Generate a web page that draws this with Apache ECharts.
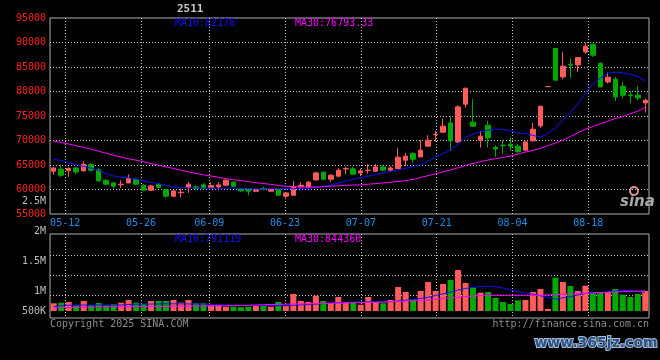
<!DOCTYPE html>
<html><head><meta charset="utf-8">
<script src="https://cdn.jsdelivr.net/npm/echarts@6/dist/echarts.min.js"></script>
<style>html,body{margin:0;padding:0;background:#000;}#c{width:660px;height:360px;}</style>
</head><body><div id="c"></div>
<script>
const title = '2511';
const dates = ['05-08','05-09','05-12','05-13','05-14','05-15','05-16','05-19','05-20','05-21','05-22','05-23','05-26','05-27','05-28','05-29','05-30',
'06-03','06-04','06-05','06-06','06-09','06-10','06-11','06-12','06-13','06-16','06-17','06-18','06-19','06-20','06-23','06-24','06-25','06-26','06-27','06-30',
'07-01','07-02','07-03','07-04','07-07','07-08','07-09','07-10','07-11','07-14','07-15','07-16','07-17','07-18','07-21','07-22','07-23','07-24','07-25','07-28','07-29','07-30','07-31',
'08-01','08-04','08-05','08-06','08-07','08-08','08-11','08-12','08-13','08-14','08-15','08-18','08-19','08-20','08-21','08-22','08-25','08-26','08-27','08-28'];
const tickDates = ['05-12','05-26','06-09','06-23','07-07','07-21','08-04','08-18'];
const volTickLabels = ['500K','1M','1.5M','2M','2.5M'];

const open = [63730,64140,63880,64400,63790,65100,64040,61900,61340,60980,
61340,62100,60870,59850,61080,59960,58630,59340,60400,60530,
60940,60400,60530,60870,61490,60060,60060,59650,60260,59650,
60000,58630,58830,60530,60400,61960,63530,62100,62710,64200,
64200,63390,63880,63730,64610,63940,64280,65980,67340,66650,
68840,71180,71690,73590,69710,77410,73730,70060,73120,68570,
69040,69240,68840,68020,69920,72980,80980,88780,82980,85570,
85430,88080,89650,85710,81960,82510,81080,79310,79240,77670];
const close = [64400,62920,64280,63590,65160,63940,61750,61080,60670,61080,
62240,61080,59850,60730,60400,58630,59710,59450,61080,60200,
60260,60810,60940,61900,60670,59710,59650,59920,60060,60060,
58830,59300,60530,60870,61490,63390,62100,62920,63940,64280,
63120,63790,63940,64610,63940,64400,66590,66790,66180,68020,
70060,71280,72920,69920,76860,80670,72920,70880,70530,68280,
68940,68840,67670,69710,72300,77000,81020,82310,85160,85370,
86940,89240,87410,80940,82920,78900,79240,79180,78690,78220];
const low = [63060,62570,62570,63120,63730,63730,61690,60870,60200,60320,
61280,60870,59650,59650,60160,58370,58530,58420,59300,59960,
60000,60260,59850,60670,60470,59550,58830,59550,59850,59550,
58730,58020,58730,60400,60260,61790,61900,61550,62610,63120,
63020,62710,63260,63630,63830,63590,64140,64750,65430,66590,
68730,69710,71590,67880,69510,76730,72820,68570,68570,66650,
67340,67880,67610,67920,69860,72570,80960,82200,82450,82770,
84000,87760,87060,80880,81630,78080,78570,77670,78220,75710];
const high = [64550,64960,64550,64610,65770,65430,64340,62100,61550,61900,
63060,62300,61080,60980,61280,60160,59850,60160,61550,60870,
61340,61490,61490,62100,61750,60260,60160,60060,60530,60160,
60160,59450,61750,61490,61690,63630,63730,63120,64340,64610,
64610,64280,65160,65160,64900,64750,68430,67470,67670,70060,
71080,71960,74490,74960,77200,80780,78430,71960,74000,69040,
70060,70610,69240,69860,73590,77100,81060,88840,88080,86730,
87000,90000,89760,85980,83880,82980,81960,80060,81080,78570];
const ma10 = [66180,65920,65470,65060,64710,64350,63880,63220,62770,62510,
62370,62100,61750,61450,61200,60840,60510,60370,60320,60300,
60260,60270,60230,60300,60280,60230,60180,60160,60150,60190,
60160,60120,60170,60210,60280,60380,60620,60900,61300,61690,
62100,62440,62710,63080,63400,63730,64020,64300,64650,65080,
65800,66590,67300,68100,69250,70700,71300,71750,72150,72300,
72280,72000,71500,71400,71050,70720,71400,72600,74200,75700,
77500,79600,81500,82750,83700,83950,83800,83530,83000,82178];
const ma30 = [69860,69590,69280,68940,68590,68220,67810,67410,67000,66590,
66280,65980,65670,65300,64960,64610,64300,63940,63590,63280,
63000,62750,62490,62220,62020,61810,61610,61400,61220,61040,
60830,60670,60590,60530,60530,60530,60590,60670,60750,60870,
60900,60940,61080,61200,61340,61490,61650,61810,62040,62450,
62830,63200,63610,63980,64430,64900,65320,65670,66020,66300,
66550,66830,67220,67650,67980,68430,68920,69490,70060,70810,
71570,72300,72840,73430,73940,74490,74900,75470,75980,76793.33];
const volume = [322000,347000,376000,238000,418000,238000,334000,238000,280000,347000,
460000,347000,280000,418000,418000,418000,460000,347000,460000,322000,
322000,238000,238000,180000,180000,160000,180000,238000,238000,180000,
376000,222000,711000,418000,376000,640000,418000,347000,585000,376000,
376000,263000,585000,376000,322000,460000,1003000,794000,489000,836000,
1212000,836000,1129000,1296000,1714000,1170000,974000,765000,794000,543000,
376000,293000,447000,460000,794000,920000,84000,1392000,1212000,1045000,
836000,1058000,765000,765000,794000,920000,681000,585000,711000,836000];
const volMa10 = [188000,220000,240000,245000,250000,250000,252000,250000,248000,255000,
270000,280000,285000,290000,295000,300000,300000,298000,295000,292000,
285000,275000,262000,252000,245000,238000,230000,228000,225000,222000,
222000,220000,240000,255000,268000,290000,310000,330000,350000,365000,
375000,378000,382000,385000,387000,389000,418000,451000,489000,531000,
573000,648000,719000,794000,878000,941000,991000,1024000,1045000,1024000,
961000,886000,815000,752000,702000,635000,564000,502000,552000,598000,
669000,732000,752000,773000,807000,836000,865000,860000,810000,791119];
const volMa30 = [130000,140000,150000,155000,160000,165000,170000,172000,175000,178000,
180000,183000,185000,188000,190000,193000,196000,200000,203000,206000,
210000,214000,218000,222000,226000,232000,240000,250000,262000,272000,
280000,285000,292000,298000,305000,312000,318000,322000,330000,338000,
345000,352000,360000,368000,375000,385000,400000,415000,430000,445000,
460000,490000,520000,550000,575000,600000,625000,645000,656000,660000,
660000,660000,660000,658000,656000,660000,670000,685000,700000,712000,
725000,740000,755000,770000,782000,795000,808000,820000,832000,844360];
const priceMaText = ['MA10:82178', 'MA30:76793.33'];
const volMaText = ['MA10:791119', 'MA30:844360'];

const MONO = '"DejaVu Sans Mono","Liberation Mono",monospace';
const UP = '#ff5b5b', DOWN = '#00a800';
const tickIdx = new Set(tickDates.map(d => dates.indexOf(d)));
const showTick = (i) => tickIdx.has(i);
const candle = dates.map((d, i) => [open[i], close[i], low[i], high[i]]);
const volData = volume.map((v, i) => ({ value: v, itemStyle: { color: close[i] >= open[i] ? UP : DOWN } }));
const gridLine = { color: '#c4c4c4', width: 1, type: [1, 2] };
const G = { left: 50, width: 599, outerBoundsMode: 'none', containLabel: false };

const chart = echarts.init(document.getElementById('c'));
chart.setOption({
  backgroundColor: '#000',
  animation: false,
  grid: [
    Object.assign({ top: 18, height: 196, show: true, borderColor: '#b0b0b0', borderWidth: 1, backgroundColor: 'transparent' }, G),
    Object.assign({ top: 234, height: 77 }, G),
    Object.assign({ top: 235, height: 80 }, G),
    Object.assign({ top: 234, height: 84, show: true, borderColor: '#b0b0b0', borderWidth: 1, backgroundColor: 'transparent' }, G),
    Object.assign({ top: 201, height: 150 }, G)
  ],
  xAxis: [
    { type: 'category', gridIndex: 0, data: dates, boundaryGap: false, axisLine: { show: false }, axisTick: { show: false },
      axisLabel: { interval: showTick, color: '#1f8fea', fontFamily: MONO, fontSize: 10, margin: 4 },
      splitLine: { show: true, interval: showTick, lineStyle: gridLine } },
    { type: 'category', gridIndex: 0, data: dates, boundaryGap: true, show: false },
    { type: 'category', gridIndex: 1, data: dates, boundaryGap: true, show: false },
    { type: 'category', gridIndex: 2, data: dates, show: false },
    { type: 'category', gridIndex: 3, data: dates, boundaryGap: false, axisLine: { show: false }, axisTick: { show: false },
      axisLabel: { show: false }, splitLine: { show: true, interval: showTick, lineStyle: gridLine } },
    { type: 'category', gridIndex: 4, data: dates, show: false }
  ],
  yAxis: [
    { type: 'value', gridIndex: 0, min: 55000, max: 95000, interval: 5000, axisLine: { show: false }, axisTick: { show: false },
      axisLabel: { color: '#ff2020', fontFamily: MONO, fontSize: 10, margin: 4, formatter: v => String(v) },
      splitLine: { show: true, showMinLine: false, showMaxLine: false, lineStyle: gridLine } },
    { type: 'value', gridIndex: 1, min: 0, max: 3220000, show: false },
    { type: 'value', gridIndex: 2, min: 0, max: 80, interval: 20, axisLine: { show: false }, axisTick: { show: false },
      axisLabel: { show: false }, splitLine: { show: true, showMinLine: false, showMaxLine: false, lineStyle: gridLine } },
    { type: 'value', gridIndex: 3, show: false },
    { type: 'value', gridIndex: 4, min: 0, max: 2500000, interval: 500000, axisLine: { show: false }, axisTick: { show: false },
      splitLine: { show: false },
      axisLabel: { color: '#bcbcbc', fontFamily: MONO, fontSize: 10, margin: 4,
        formatter: v => { const k = Math.round(v / 500000); if (k === 0) return ''; const t = volTickLabels[k - 1]; return k === 1 ? '{lo|' + t + '}' : t; },
        rich: { lo: { color: '#bcbcbc', fontFamily: MONO, fontSize: 10, padding: [0, 0, 20, 0] } } } }
  ],
  series: [
    { type: 'candlestick', xAxisIndex: 1, yAxisIndex: 0, data: candle, barWidth: 5, silent: true,
      itemStyle: { color: UP, color0: DOWN, borderColor: UP, borderColor0: DOWN, borderWidth: 1 } },
    { type: 'line', xAxisIndex: 1, yAxisIndex: 0, data: ma10, symbol: 'none', silent: true, lineStyle: { color: '#1010ff', width: 1 } },
    { type: 'line', xAxisIndex: 1, yAxisIndex: 0, data: ma30, symbol: 'none', silent: true, lineStyle: { color: '#ff00ff', width: 1 } },
    { type: 'bar', xAxisIndex: 2, yAxisIndex: 1, data: volData, barWidth: 6, silent: true },
    { type: 'line', xAxisIndex: 2, yAxisIndex: 1, data: volMa10, symbol: 'none', silent: true, lineStyle: { color: '#1010ff', width: 1 } },
    { type: 'line', xAxisIndex: 2, yAxisIndex: 1, data: volMa30, symbol: 'none', silent: true, lineStyle: { color: '#ff00ff', width: 1 } }
  ],
  graphic: [
    { type: 'text', x: 177, y: 9, style: { text: title, fill: '#c8c8c8', font: 'bold 11px ' + MONO, verticalAlign: 'middle' } },
    { type: 'text', x: 175, y: 23, style: { text: priceMaText[0], fill: '#1010ff', font: '10px ' + MONO, verticalAlign: 'middle' } },
    { type: 'text', x: 295, y: 23, style: { text: priceMaText[1], fill: '#ff00ff', font: '10px ' + MONO, verticalAlign: 'middle' } },
    { type: 'text', x: 175, y: 239, style: { text: volMaText[0], fill: '#1010ff', font: '10px ' + MONO, verticalAlign: 'middle' } },
    { type: 'text', x: 295, y: 239, style: { text: volMaText[1], fill: '#ff00ff', font: '10px ' + MONO, verticalAlign: 'middle' } },
    { type: 'text', x: 50, y: 324, style: { text: 'Copyright 2025 SINA.COM', fill: '#8c8c8c', font: '10px ' + MONO, verticalAlign: 'middle' } },
    { type: 'text', x: 649, y: 324, style: { text: 'http://finance.sina.com.cn', fill: '#8c8c8c', font: '10px ' + MONO, align: 'right', verticalAlign: 'middle' } },
    { type: 'circle', shape: { cx: 634, cy: 191, r: 4 }, style: { fill: 'none', stroke: '#e89090', lineWidth: 2 } },
    { type: 'text', x: 620, y: 202, style: { text: 'sina', fill: '#a8a8a8', font: 'italic bold 15px "DejaVu Sans",sans-serif', verticalAlign: 'middle' } },
    { type: 'text', x: 596, y: 343, style: { text: 'www.365jz.com', fill: '#2c5286', stroke: '#a8bcd8', lineWidth: 2, strokeFirst: true, font: 'bold 14px "DejaVu Sans",sans-serif', align: 'center', verticalAlign: 'middle' } }
  ]
});
</script>
</body></html>
